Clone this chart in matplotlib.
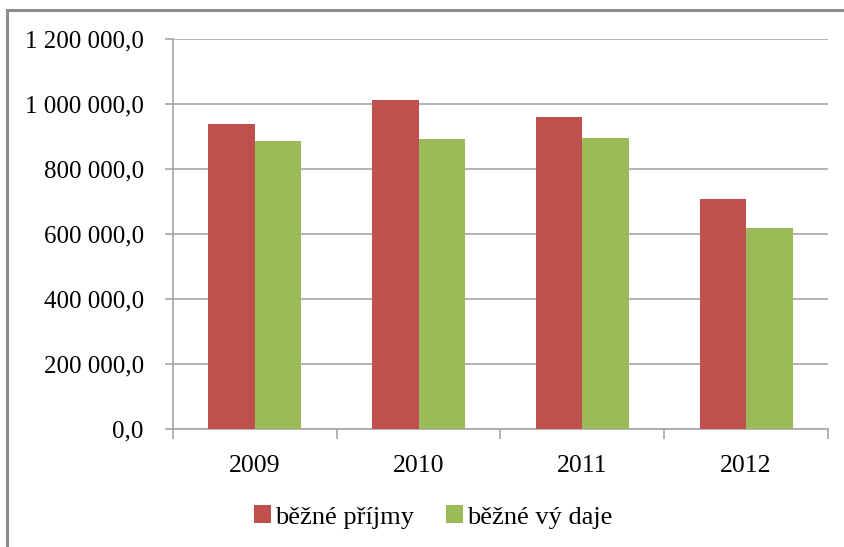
import matplotlib
matplotlib.use("Agg")
import matplotlib.pyplot as plt
import numpy as np
from matplotlib.lines import Line2D
from matplotlib.ticker import FuncFormatter, FixedLocator

years = ["2009", "2010", "2011", "2012"]
prijmy = [937500, 1011000, 961000, 706800]
vydaje = [885000, 893000, 896000, 619000]
series_names = ["běžné příjmy", "běžné vý daje"]

red = "#C0504D"
green = "#9BBB59"
grid_c = "#A6A6A6"

plt.rcParams["font.family"] = ["Liberation Serif", "DejaVu Serif"]

fig = plt.figure(figsize=(8.45, 5.47), dpi=100)
W, H = 845, 547
ax = fig.add_axes([173 / W, 1 - 429 / H, (828 - 173) / W, (429 - 39) / H])

x = np.arange(len(years))
bw = 0.284
ax.bar(x - bw / 2, prijmy, bw, color=red, label=series_names[0], zorder=3)
ax.bar(x + bw / 2, vydaje, bw, color=green, label=series_names[1], zorder=3)

ax.set_xlim(-0.5, 3.5)
ax.set_ylim(0, 1200000)
ax.set_yticks(np.arange(0, 1200001, 200000))


def fmt(v, pos):
    s = "{:,.1f}".format(v).replace(",", " ").replace(".", ",")
    return s


ax.yaxis.set_major_formatter(FuncFormatter(fmt))
ax.set_xticks(x)
ax.set_xticklabels(years)
ax.xaxis.set_minor_locator(FixedLocator([-0.5, 0.5, 1.5, 2.5, 3.5]))
ax.tick_params(axis="x", which="major", length=0, pad=19, labelsize=18.5)
ax.tick_params(axis="x", which="minor", length=7, color=grid_c, width=1.2)
ax.tick_params(axis="y", length=6, color=grid_c, width=1.2, labelsize=18, pad=15)

ax.grid(axis="y", color=grid_c, linewidth=1.2, zorder=0)
for s in ["top", "right"]:
    ax.spines[s].set_visible(False)
for s in ["left", "bottom"]:
    ax.spines[s].set_color(grid_c)
    ax.spines[s].set_linewidth(1.2)

leg = fig.legend(loc="center", bbox_to_anchor=(433 / W, 1 - 517 / H), ncol=2,
                 frameon=False, fontsize=19, handlelength=0.65, handleheight=0.65,
                 handletextpad=0.15, columnspacing=1.2)

# outer chart frame (left and top edges visible)
fig.add_artist(Line2D([7 / W, 7 / W], [0, 1 - 10 / H], transform=fig.transFigure,
                      color="#8C8C8C", linewidth=2.2))
fig.add_artist(Line2D([7 / W, 1], [1 - 10 / H, 1 - 10 / H], transform=fig.transFigure,
                      color="#8C8C8C", linewidth=2.2))

fig.savefig("out.png", dpi=100)
